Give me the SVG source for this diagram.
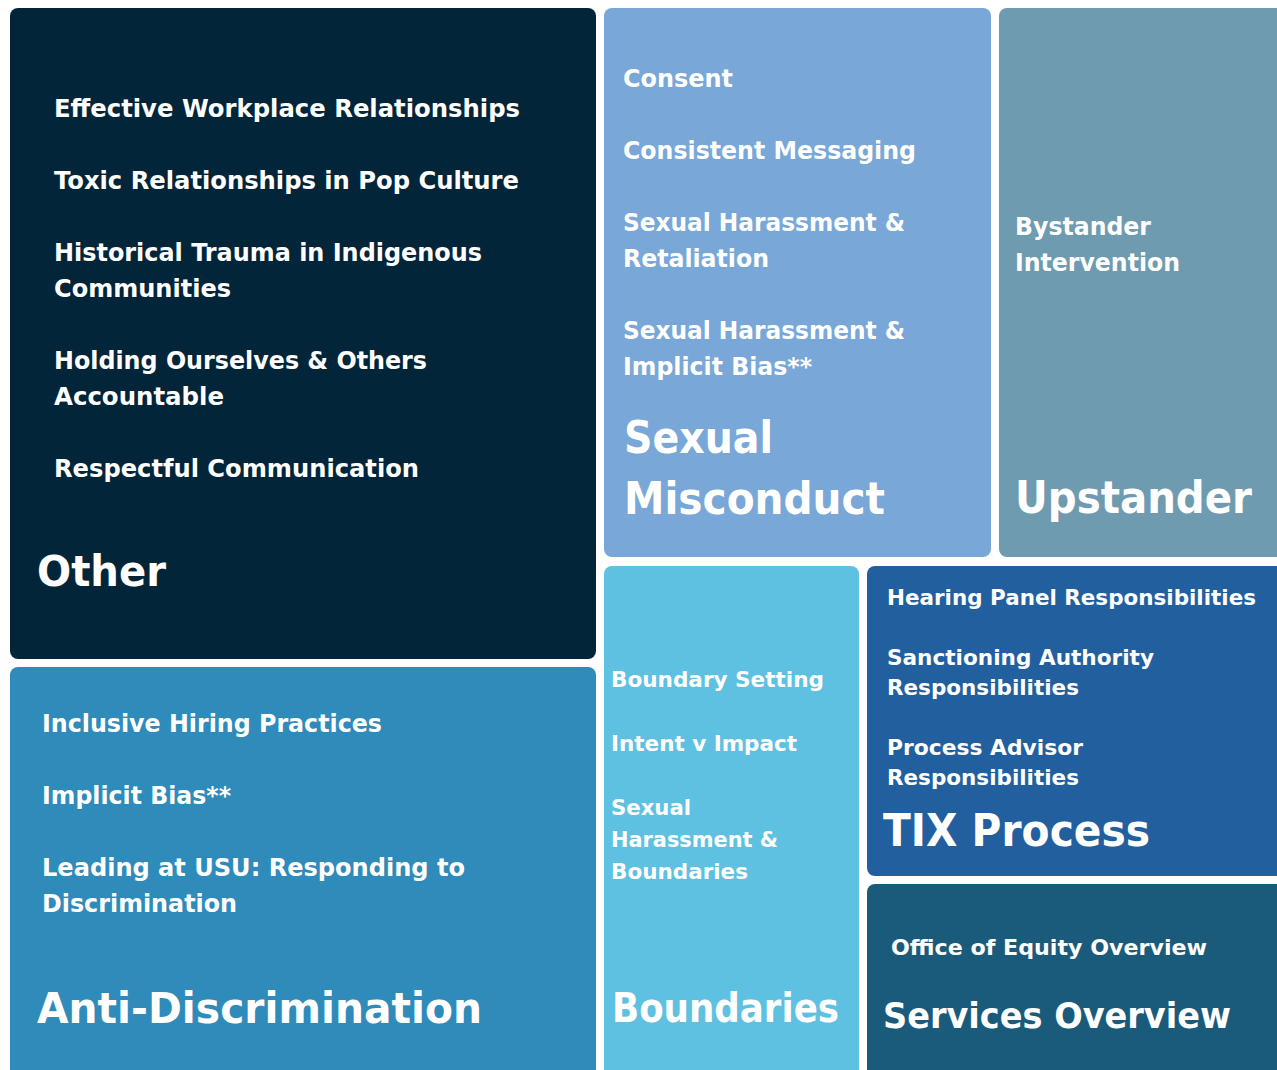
<svg xmlns="http://www.w3.org/2000/svg" width="1277" height="1070" viewBox="0 0 1277 1070">
<style>
text{font-family:"DejaVu Sans","Liberation Sans",sans-serif;font-weight:bold;fill:#ffffff;}
.s24{font-size:24px;}
.s22{font-size:22px;}
.s21{font-size:21px;}
</style>
<rect x="0" y="0" width="1277" height="1070" fill="#ffffff"/>
<g id="connectors"></g>
<g id="other">
<rect x="10" y="8" width="586" height="651" rx="8" fill="#03253A"/>
<text class="s24" x="54" y="117" textLength="466" lengthAdjust="spacingAndGlyphs">Effective Workplace Relationships</text>
<text class="s24" x="54" y="189" textLength="465" lengthAdjust="spacingAndGlyphs">Toxic Relationships in Pop Culture</text>
<text class="s24" x="54" y="261" textLength="428" lengthAdjust="spacingAndGlyphs">Historical Trauma in Indigenous</text>
<text class="s24" x="54" y="297" textLength="177" lengthAdjust="spacingAndGlyphs">Communities</text>
<text class="s24" x="54" y="369" textLength="373" lengthAdjust="spacingAndGlyphs">Holding Ourselves &amp; Others</text>
<text class="s24" x="54" y="405" textLength="170" lengthAdjust="spacingAndGlyphs">Accountable</text>
<text class="s24" x="54" y="477" textLength="365" lengthAdjust="spacingAndGlyphs">Respectful Communication</text>
<text x="37" y="586" font-size="42" textLength="129" lengthAdjust="spacingAndGlyphs">Other</text>
</g>
<g id="sexual-misconduct">
<rect x="604" y="8" width="387" height="549" rx="8" fill="#79A7D7"/>
<text class="s24" x="623" y="87" textLength="110" lengthAdjust="spacingAndGlyphs">Consent</text>
<text class="s24" x="623" y="159" textLength="293" lengthAdjust="spacingAndGlyphs">Consistent Messaging</text>
<text class="s24" x="623" y="231" textLength="282" lengthAdjust="spacingAndGlyphs">Sexual Harassment &amp;</text>
<text class="s24" x="623" y="267" textLength="146" lengthAdjust="spacingAndGlyphs">Retaliation</text>
<text class="s24" x="623" y="339" textLength="282" lengthAdjust="spacingAndGlyphs">Sexual Harassment &amp;</text>
<text class="s24" x="623" y="375" textLength="189" lengthAdjust="spacingAndGlyphs">Implicit Bias**</text>
<text x="624" y="453" font-size="45" textLength="149" lengthAdjust="spacingAndGlyphs">Sexual</text>
<text x="624" y="514" font-size="45" textLength="261" lengthAdjust="spacingAndGlyphs">Misconduct</text>
</g>
<g id="upstander">
<rect x="999" y="8" width="295" height="549" rx="8" fill="#6E9BB0"/>
<text class="s24" x="1015" y="235" textLength="136" lengthAdjust="spacingAndGlyphs">Bystander</text>
<text class="s24" x="1015" y="271" textLength="165" lengthAdjust="spacingAndGlyphs">Intervention</text>
<text x="1015" y="513" font-size="45" textLength="237" lengthAdjust="spacingAndGlyphs">Upstander</text>
</g>
<g id="anti-discrimination">
<rect x="10" y="667" width="586" height="420" rx="8" fill="#2E8BBA"/>
<text class="s24" x="42" y="732" textLength="340" lengthAdjust="spacingAndGlyphs">Inclusive Hiring Practices</text>
<text class="s24" x="42" y="804" textLength="189" lengthAdjust="spacingAndGlyphs">Implicit Bias**</text>
<text class="s24" x="42" y="876" textLength="423" lengthAdjust="spacingAndGlyphs">Leading at USU: Responding to</text>
<text class="s24" x="42" y="912" textLength="195" lengthAdjust="spacingAndGlyphs">Discrimination</text>
<text x="37" y="1023" font-size="43" textLength="445" lengthAdjust="spacingAndGlyphs">Anti-Discrimination</text>
</g>
<g id="boundaries">
<rect x="604" y="566" width="255" height="520" rx="8" fill="#5EC1E1"/>
<text class="s21" x="611" y="687" textLength="213" lengthAdjust="spacingAndGlyphs">Boundary Setting</text>
<text class="s21" x="611" y="751" textLength="186" lengthAdjust="spacingAndGlyphs">Intent v Impact</text>
<text class="s21" x="611" y="815" textLength="80" lengthAdjust="spacingAndGlyphs">Sexual</text>
<text class="s21" x="611" y="847" textLength="167" lengthAdjust="spacingAndGlyphs">Harassment &amp;</text>
<text class="s21" x="611" y="879" textLength="137" lengthAdjust="spacingAndGlyphs">Boundaries</text>
<text x="612" y="1022" font-size="40" textLength="227" lengthAdjust="spacingAndGlyphs">Boundaries</text>
</g>
<g id="tix-process">
<rect x="867" y="566" width="425" height="310" rx="8" fill="#225F9E"/>
<text class="s21" x="887" y="605" textLength="369" lengthAdjust="spacingAndGlyphs">Hearing Panel Responsibilities</text>
<text class="s21" x="887" y="665" textLength="267" lengthAdjust="spacingAndGlyphs">Sanctioning Authority</text>
<text class="s21" x="887" y="695" textLength="192" lengthAdjust="spacingAndGlyphs">Responsibilities</text>
<text class="s21" x="887" y="755" textLength="196" lengthAdjust="spacingAndGlyphs">Process Advisor</text>
<text class="s21" x="887" y="785" textLength="192" lengthAdjust="spacingAndGlyphs">Responsibilities</text>
<text x="883" y="846" font-size="44" textLength="267" lengthAdjust="spacingAndGlyphs">TIX Process</text>
</g>
<g id="services-overview">
<rect x="867" y="884" width="425" height="200" rx="8" fill="#1A5B7B"/>
<text class="s22" x="891" y="955" textLength="316" lengthAdjust="spacingAndGlyphs">Office of Equity Overview</text>
<text x="883" y="1028" font-size="35" textLength="348" lengthAdjust="spacingAndGlyphs">Services Overview</text>
</g>
</svg>
